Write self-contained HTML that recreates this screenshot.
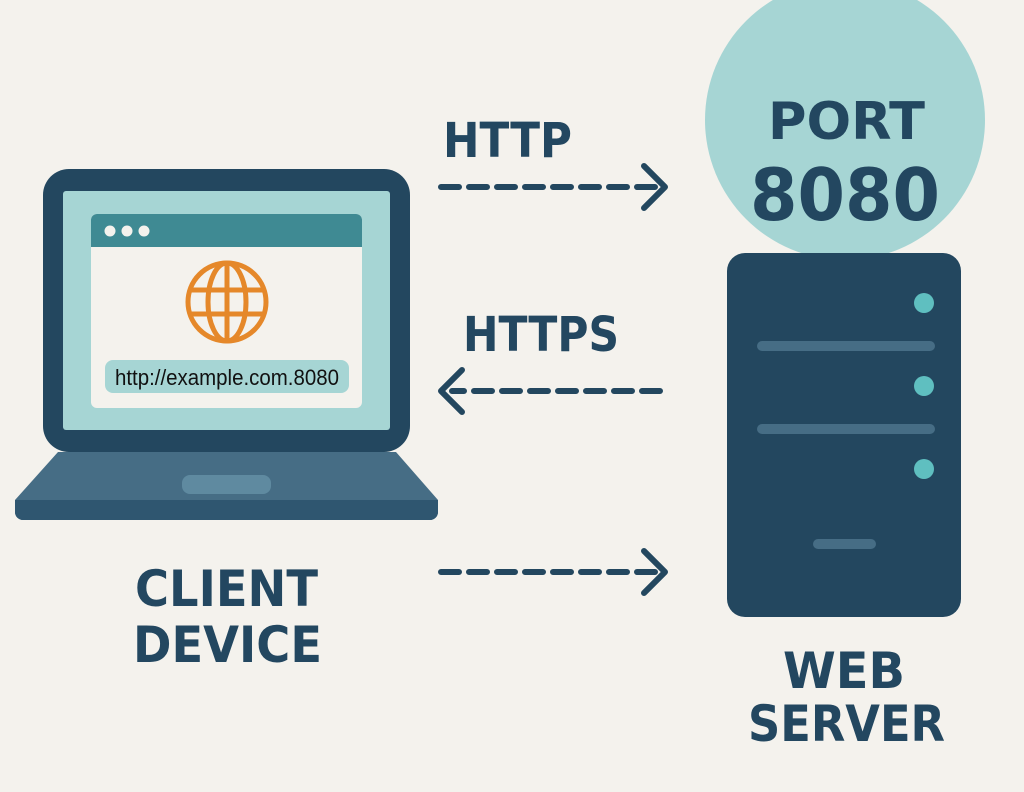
<!DOCTYPE html>
<html><head><meta charset="utf-8"><style>
html,body{margin:0;padding:0;background:#f4f2ed;}
svg{display:block}
text{font-family:"DejaVu Sans","Liberation Sans",sans-serif;font-weight:bold;fill:#234760}
</style></head><body>
<svg width="1024" height="792" viewBox="0 0 1024 792" xmlns="http://www.w3.org/2000/svg">
<rect width="1024" height="792" fill="#f4f2ed"/>
<!-- laptop -->
<rect x="43" y="169" width="367" height="283" rx="26" fill="#23475f"/>
<rect x="63" y="191" width="327" height="239" rx="3" fill="#a6d5d4"/>
<rect x="91" y="214" width="271" height="194" rx="6" fill="#f4f2ed"/>
<path d="M97 214 H356 a6 6 0 0 1 6 6 V247 H91 V220 a6 6 0 0 1 6 -6 Z" fill="#3f8a93"/>
<circle cx="110" cy="231" r="5.5" fill="#f4f2ed"/>
<circle cx="127" cy="231" r="5.5" fill="#f4f2ed"/>
<circle cx="144" cy="231" r="5.5" fill="#f4f2ed"/>
<g fill="none" stroke="#e5882a" stroke-width="5">
<circle cx="227" cy="302" r="39"/>
<ellipse cx="227" cy="302" rx="19" ry="39"/>
<line x1="227" y1="263" x2="227" y2="341"/>
<line x1="190" y1="290" x2="264" y2="290"/>
<line x1="190" y1="314" x2="264" y2="314"/>
</g>
<rect x="105" y="360" width="244" height="33" rx="8" fill="#a6d5d4"/>
<text x="227" y="385" text-anchor="middle" textLength="224" lengthAdjust="spacingAndGlyphs" style="font-family:'Liberation Sans',sans-serif;font-weight:normal;font-size:22px;fill:#111">http://example.com.8080</text>
<path d="M58 452 H396 L438 500 V512 a8 8 0 0 1 -8 8 H23 a8 8 0 0 1 -8 -8 V500 Z" fill="#466d85"/>
<path d="M15 500 H438 V512 a8 8 0 0 1 -8 8 H23 a8 8 0 0 1 -8 -8 Z" fill="#2f5670"/>
<rect x="182" y="475" width="89" height="19" rx="8" fill="#5f8aa0"/>
<!-- port circle -->
<circle cx="845" cy="120" r="140" fill="#a6d5d4"/>
<text x="768" y="139" textLength="157" lengthAdjust="spacingAndGlyphs" font-size="52">PORT</text>
<text x="750" y="220" textLength="190" lengthAdjust="spacingAndGlyphs" font-size="72">8080</text>
<!-- server -->
<rect x="727" y="253" width="234" height="364" rx="18" fill="#23475f"/>
<circle cx="924" cy="303" r="10" fill="#5fbfc0"/>
<circle cx="924" cy="386" r="10" fill="#5fbfc0"/>
<circle cx="924" cy="469" r="10" fill="#5fbfc0"/>
<rect x="757" y="341" width="178" height="10" rx="5" fill="#466d85"/>
<rect x="757" y="424" width="178" height="10" rx="5" fill="#466d85"/>
<rect x="813" y="539" width="63" height="10" rx="5" fill="#466d85"/>
<!-- arrows -->
<g stroke="#23475f" stroke-width="6" stroke-linecap="round" stroke-linejoin="round" fill="none">
<line x1="441" y1="187" x2="655" y2="187" stroke-dasharray="18 10"/>
<polyline points="644,166 665,187 644,208"/>
<line x1="660" y1="391" x2="452" y2="391" stroke-dasharray="18 10"/>
<polyline points="462,370 441,391 462,412"/>
<line x1="441" y1="572" x2="655" y2="572" stroke-dasharray="18 10"/>
<polyline points="644,551 665,572 644,593"/>
</g>
<text x="443" y="157" textLength="129" lengthAdjust="spacingAndGlyphs" font-size="48">HTTP</text>
<text x="463" y="351" textLength="156" lengthAdjust="spacingAndGlyphs" font-size="48">HTTPS</text>
<text x="135" y="606" textLength="183" lengthAdjust="spacingAndGlyphs" font-size="50">CLIENT</text>
<text x="133" y="662" textLength="189" lengthAdjust="spacingAndGlyphs" font-size="50">DEVICE</text>
<text x="783" y="688" textLength="122" lengthAdjust="spacingAndGlyphs" font-size="50">WEB</text>
<text x="748" y="741" textLength="197" lengthAdjust="spacingAndGlyphs" font-size="50">SERVER</text>
</svg>
</body></html>
